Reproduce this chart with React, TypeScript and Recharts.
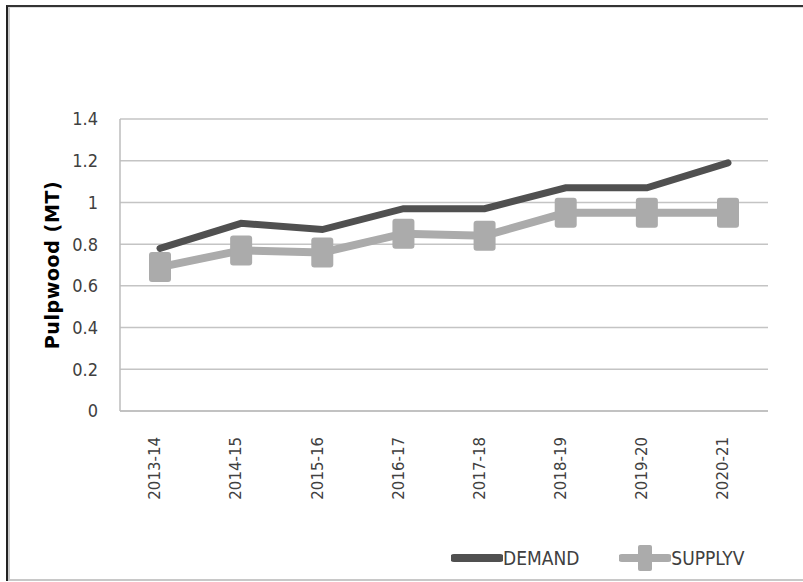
import { LineChart, Line, XAxis, YAxis, CartesianGrid, Legend } from "recharts";

const years = ["2013-14", "2014-15", "2015-16", "2016-17", "2017-18", "2018-19", "2019-20", "2020-21"];
const demand = [0.78, 0.9, 0.87, 0.97, 0.97, 1.07, 1.07, 1.19];
const supply = [0.69, 0.77, 0.76, 0.85, 0.84, 0.95, 0.95, 0.95];
const yTicks = [0, 0.2, 0.4, 0.6, 0.8, 1, 1.2, 1.4];

const data = years.map((year, i) => ({ year, DEMAND: demand[i], SUPPLYV: supply[i] }));

const DARK = "#505050";
const LIGHT = "#ababab";
const narrow = "'DejaVu Sans Condensed', 'Liberation Sans Narrow', 'Open Sans', sans-serif";

const SquareDot = (props: any) => {
  const { cx, cy, index } = props;
  if (cx == null || cy == null) return null;
  return <rect key={index} x={cx - 11} y={cy - 15} width={22} height={30} rx={3} fill={LIGHT} />;
};

const XTick = (props: any) => {
  const { x, y, payload } = props;
  return (
    <text
      x={x - 5}
      y={y + 18}
      transform={`rotate(-90, ${x - 5}, ${y + 18})`}
      textAnchor="end"
      dy="0.35em"
      fill="#404040"
      fontSize={15}
      fontFamily="'DejaVu Sans', sans-serif"
    >
      {payload.value}
    </text>
  );
};

const LegendContent = () => (
  <div style={{ display: "flex", alignItems: "center", height: 30, fontFamily: narrow, fontSize: 19, color: "#404040" }}>
    <svg width={52} height={28}>
      <line x1={3} y1={14} x2={49} y2={14} stroke={DARK} strokeWidth={8} strokeLinecap="round" />
    </svg>
    <span style={{ marginRight: 40 }}>DEMAND</span>
    <svg width={52} height={28}>
      <line x1={3} y1={14} x2={49} y2={14} stroke={LIGHT} strokeWidth={8} strokeLinecap="round" />
      <rect x={19} y={1} width={14} height={26} rx={2} fill={LIGHT} />
    </svg>
    <span>SUPPLYV</span>
  </div>
);

export default function App() {
  return (
    <div style={{ position: "absolute", left: 0, top: 0, width: 803, height: 582, background: "#fff", overflow: "hidden" }}>
      <div style={{ position: "absolute", left: 6, top: 5, right: -4, bottom: 1, borderTop: "2px solid #333", borderLeft: "2px solid #222" }} />
      <div style={{ position: "absolute", left: 8, top: 7, right: -4, bottom: 1, borderLeft: "2px solid #c8c8c8", borderTop: "1px solid #ddd", borderBottom: "2px solid #c8c8c8" }} />
      <LineChart
        width={803}
        height={582}
        data={data}
        margin={{ top: 119, right: 35, bottom: 0, left: 0 }}
        style={{ position: "absolute", left: 0, top: 0 }}
      >
        <CartesianGrid vertical={false} stroke="#c4c4c4" strokeWidth={1.5} />
        <XAxis
          dataKey="year"
          height={141}
          padding={{ left: 40, right: 40 }}
          tick={<XTick />}
          tickLine={false}
          axisLine={{ stroke: "#bdbdbd", strokeWidth: 1.5 }}
          interval={0}
        />
        <YAxis
          width={120}
          domain={[0, 1.4]}
          ticks={yTicks}
          tickLine={false}
          axisLine={{ stroke: "#bdbdbd", strokeWidth: 1.5 }}
          tickMargin={16}
          tick={{ fill: "#404040", fontSize: 18, fontFamily: narrow }}
          label={{
            value: "Pulpwood (MT)",
            angle: -90,
            position: "insideLeft",
            offset: 52,
            style: { textAnchor: "middle", fontWeight: "bold", fontSize: 19, letterSpacing: 0.6, fill: "#000", fontFamily: "'DejaVu Sans', sans-serif" },
          }}
        />
        <Legend
          verticalAlign="bottom"
          height={30}
          content={<LegendContent />}
          wrapperStyle={{ position: "absolute", left: 451, top: 543, width: 340 }}
        />
        <Line
          dataKey="DEMAND"
          stroke={DARK}
          strokeWidth={7}
          strokeLinecap="round"
          dot={false}
          activeDot={false}
          isAnimationActive={false}
        />
        <Line
          dataKey="SUPPLYV"
          stroke={LIGHT}
          strokeWidth={8}
          dot={<SquareDot />}
          activeDot={false}
          isAnimationActive={false}
        />
      </LineChart>
    </div>
  );
}
